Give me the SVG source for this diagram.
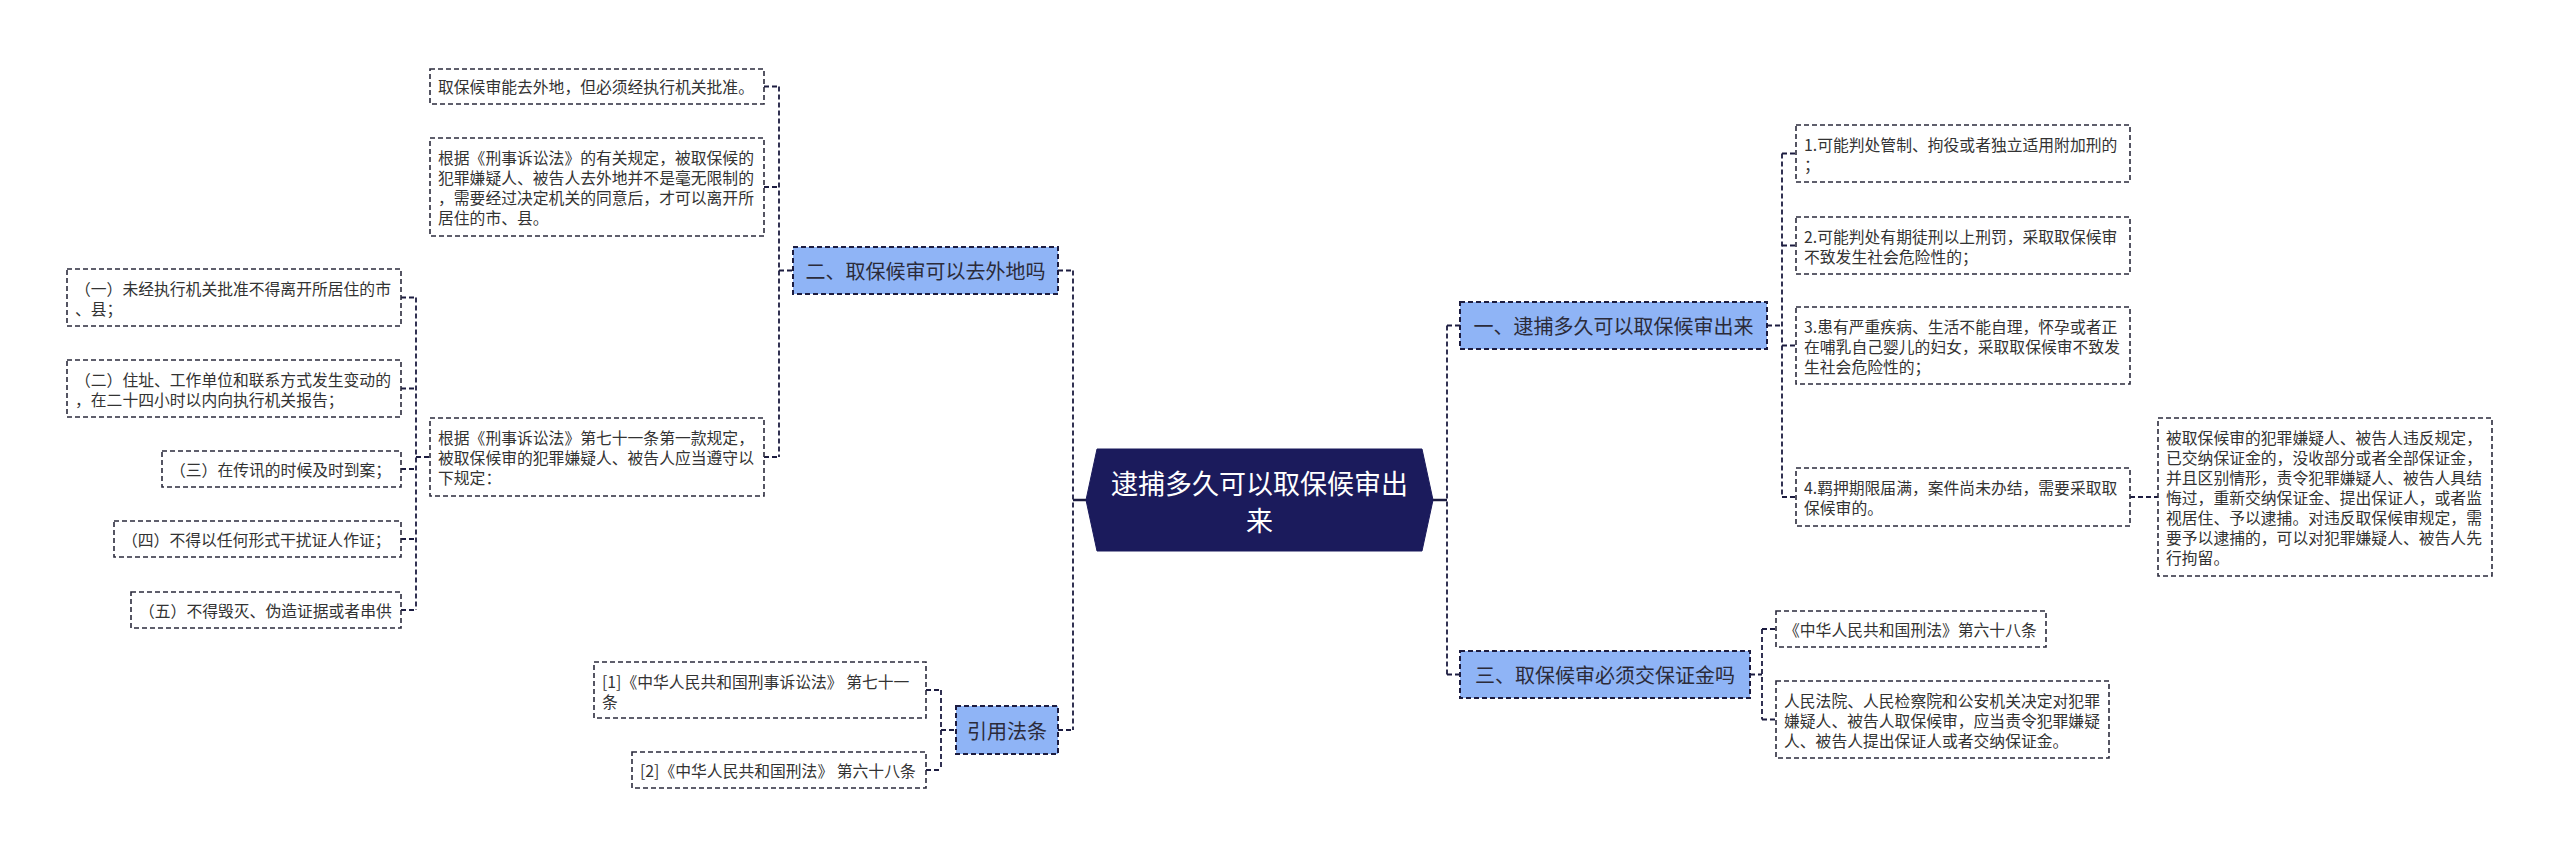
<svg xmlns="http://www.w3.org/2000/svg" width="2560" height="857" viewBox="0 0 2560 857">
<style>
text{font-family:"Noto Sans CJK SC","Noto Sans",sans-serif;}
.leaf rect{fill:#ffffff;stroke:#2b2b3c;stroke-width:1.6;stroke-dasharray:5 3;}
.leaf text{font-size:15.8px;fill:#333333;dominant-baseline:central;}
.br rect{fill:#8fb4f6;stroke:#1c1c40;stroke-width:2;stroke-dasharray:5 3;}
.br text{font-size:20px;fill:#2b2b3a;dominant-baseline:central;text-anchor:middle;}
.con line{fill:none;stroke:#1c1c40;stroke-width:1.8;stroke-dasharray:5 3;}
.con .solid{stroke-dasharray:none;stroke-width:2.5;}
</style>
<rect width="2560" height="857" fill="#ffffff"/>

<g id="connectors" class="con">
  <line class="solid" x1="1073" y1="500" x2="1087" y2="500"/>
  <line class="solid" x1="1432" y1="500" x2="1447" y2="500"/>
  <line x1="1073" y1="270.5" x2="1073" y2="730"/>
  <line x1="1058" y1="270.5" x2="1073" y2="270.5"/>
  <line x1="1058" y1="730" x2="1073" y2="730"/>
  <line x1="1447" y1="325.5" x2="1447" y2="674.5"/>
  <line x1="1447" y1="325.5" x2="1460" y2="325.5"/>
  <line x1="1447" y1="674.5" x2="1460" y2="674.5"/>
  <line x1="779" y1="86.5" x2="779" y2="457"/>
  <line x1="779" y1="270.5" x2="793" y2="270.5"/>
  <line x1="764" y1="86.5" x2="779" y2="86.5"/>
  <line x1="764" y1="187" x2="779" y2="187"/>
  <line x1="764" y1="457" x2="779" y2="457"/>
  <line x1="416" y1="297.5" x2="416" y2="610"/>
  <line x1="416" y1="457" x2="430" y2="457"/>
  <line x1="401" y1="297.5" x2="416" y2="297.5"/>
  <line x1="401" y1="388.5" x2="416" y2="388.5"/>
  <line x1="401" y1="469" x2="416" y2="469"/>
  <line x1="401" y1="539" x2="416" y2="539"/>
  <line x1="401" y1="610" x2="416" y2="610"/>
  <line x1="941" y1="690" x2="941" y2="770"/>
  <line x1="941" y1="730" x2="956" y2="730"/>
  <line x1="926" y1="690" x2="941" y2="690"/>
  <line x1="926" y1="770" x2="941" y2="770"/>
  <line x1="1782" y1="153.5" x2="1782" y2="497"/>
  <line x1="1767" y1="325.5" x2="1782" y2="325.5"/>
  <line x1="1782" y1="153.5" x2="1796" y2="153.5"/>
  <line x1="1782" y1="245.5" x2="1796" y2="245.5"/>
  <line x1="1782" y1="345.5" x2="1796" y2="345.5"/>
  <line x1="1782" y1="497" x2="1796" y2="497"/>
  <line x1="2130" y1="497" x2="2158" y2="497"/>
  <line x1="1762" y1="629" x2="1762" y2="719.5"/>
  <line x1="1750" y1="674.5" x2="1762" y2="674.5"/>
  <line x1="1762" y1="629" x2="1776" y2="629"/>
  <line x1="1762" y1="719.5" x2="1776" y2="719.5"/>
</g>

<g id="center">
  <polygon points="1097,449 1422,449 1433,500 1422,551 1097,551 1086,500" fill="#1b1b5c" stroke="#1b1b5c"/>
  <text x="1259.5" y="482" font-size="27" fill="#ffffff" text-anchor="middle" dominant-baseline="central">逮捕多久可以取保候审出</text>
  <text x="1259.5" y="519" font-size="27" fill="#ffffff" text-anchor="middle" dominant-baseline="central">来</text>
</g>

<g id="branch-2" class="br">
  <rect x="793" y="247" width="265" height="47"/>
  <text x="925.5" y="270.5">二、取保候审可以去外地吗</text>
</g>
<g id="branch-cite" class="br">
  <rect x="956" y="706" width="102" height="48"/>
  <text x="1007" y="730">引用法条</text>
</g>
<g id="branch-1" class="br">
  <rect x="1460" y="302" width="307" height="47"/>
  <text x="1613.5" y="325.5">一、逮捕多久可以取保候审出来</text>
</g>
<g id="branch-3" class="br">
  <rect x="1460" y="651" width="290" height="47"/>
  <text x="1605" y="674.5">三、取保候审必须交保证金吗</text>
</g>

<g id="leaf-l1" class="leaf">
  <rect x="430" y="69" width="334" height="35"/>
  <text x="438" y="86.5">取保候审能去外地，但必须经执行机关批准。</text>
</g>
<g id="leaf-l2" class="leaf">
  <rect x="430" y="138" width="334" height="98"/>
  <text x="438" y="157">根据《刑事诉讼法》的有关规定，被取保候的</text>
  <text x="438" y="177">犯罪嫌疑人、被告人去外地并不是毫无限制的</text>
  <text x="438" y="197">，需要经过决定机关的同意后，才可以离开所</text>
  <text x="438" y="217">居住的市、县。</text>
</g>
<g id="leaf-l3" class="leaf">
  <rect x="430" y="418" width="334" height="78"/>
  <text x="438" y="437">根据《刑事诉讼法》第七十一条第一款规定，</text>
  <text x="438" y="457">被取保候审的犯罪嫌疑人、被告人应当遵守以</text>
  <text x="438" y="477">下规定：</text>
</g>
<g id="leaf-r1" class="leaf">
  <rect x="67" y="269" width="334" height="57"/>
  <text x="75" y="288">（一）未经执行机关批准不得离开所居住的市</text>
  <text x="75" y="308">、县；</text>
</g>
<g id="leaf-r2" class="leaf">
  <rect x="67" y="360" width="334" height="57"/>
  <text x="75" y="379">（二）住址、工作单位和联系方式发生变动的</text>
  <text x="75" y="399">，在二十四小时以内向执行机关报告；</text>
</g>
<g id="leaf-r3" class="leaf">
  <rect x="162" y="451" width="239" height="36"/>
  <text x="170" y="469">（三）在传讯的时候及时到案；</text>
</g>
<g id="leaf-r4" class="leaf">
  <rect x="114" y="521" width="287" height="36"/>
  <text x="122" y="539">（四）不得以任何形式干扰证人作证；</text>
</g>
<g id="leaf-r5" class="leaf">
  <rect x="131" y="592" width="270" height="36"/>
  <text x="139" y="610">（五）不得毁灭、伪造证据或者串供</text>
</g>
<g id="leaf-c1" class="leaf">
  <rect x="594" y="662" width="332" height="56"/>
  <text x="602" y="681">[1]《中华人民共和国刑事诉讼法》 第七十一</text>
  <text x="602" y="701">条</text>
</g>
<g id="leaf-c2" class="leaf">
  <rect x="632" y="752" width="294" height="36"/>
  <text x="640" y="770">[2]《中华人民共和国刑法》 第六十八条</text>
</g>

<g id="leaf-a1" class="leaf">
  <rect x="1796" y="125" width="334" height="57"/>
  <text x="1804" y="144">1.可能判处管制、拘役或者独立适用附加刑的</text>
  <text x="1804" y="164">；</text>
</g>
<g id="leaf-a2" class="leaf">
  <rect x="1796" y="217" width="334" height="57"/>
  <text x="1804" y="236">2.可能判处有期徒刑以上刑罚，采取取保候审</text>
  <text x="1804" y="256">不致发生社会危险性的；</text>
</g>
<g id="leaf-a3" class="leaf">
  <rect x="1796" y="307" width="334" height="77"/>
  <text x="1804" y="326">3.患有严重疾病、生活不能自理，怀孕或者正</text>
  <text x="1804" y="346">在哺乳自己婴儿的妇女，采取取保候审不致发</text>
  <text x="1804" y="366">生社会危险性的；</text>
</g>
<g id="leaf-a4" class="leaf">
  <rect x="1796" y="468" width="334" height="58"/>
  <text x="1804" y="487">4.羁押期限届满，案件尚未办结，需要采取取</text>
  <text x="1804" y="507">保候审的。</text>
</g>
<g id="leaf-a5" class="leaf">
  <rect x="2158" y="418" width="334" height="158"/>
  <text x="2166" y="437">被取保候审的犯罪嫌疑人、被告人违反规定，</text>
  <text x="2166" y="457">已交纳保证金的，没收部分或者全部保证金，</text>
  <text x="2166" y="477">并且区别情形，责令犯罪嫌疑人、被告人具结</text>
  <text x="2166" y="497">悔过，重新交纳保证金、提出保证人，或者监</text>
  <text x="2166" y="517">视居住、予以逮捕。对违反取保候审规定，需</text>
  <text x="2166" y="537">要予以逮捕的，可以对犯罪嫌疑人、被告人先</text>
  <text x="2166" y="557">行拘留。</text>
</g>
<g id="leaf-b1" class="leaf">
  <rect x="1776" y="611" width="270" height="36"/>
  <text x="1784" y="629">《中华人民共和国刑法》第六十八条</text>
</g>
<g id="leaf-b2" class="leaf">
  <rect x="1776" y="681" width="333" height="77"/>
  <text x="1784" y="700">人民法院、人民检察院和公安机关决定对犯罪</text>
  <text x="1784" y="720">嫌疑人、被告人取保候审，应当责令犯罪嫌疑</text>
  <text x="1784" y="740">人、被告人提出保证人或者交纳保证金。</text>
</g>
</svg>
